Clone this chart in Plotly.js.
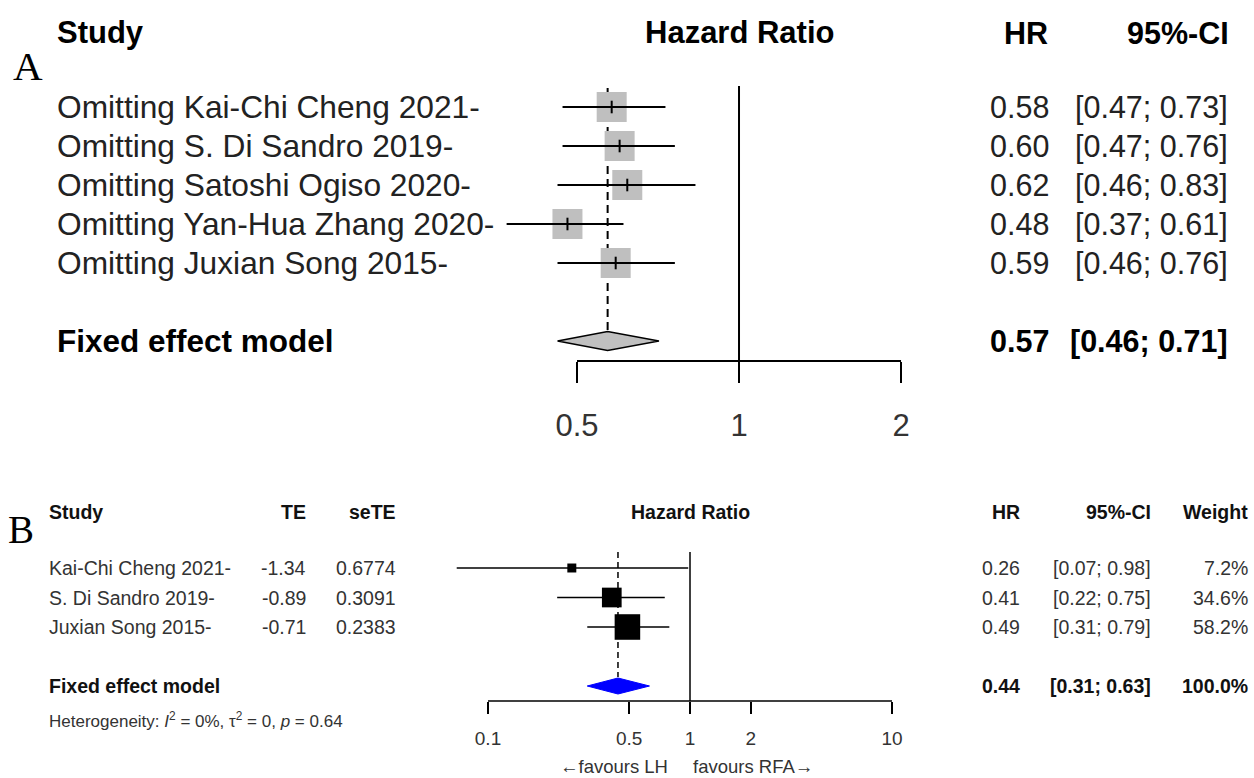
<!DOCTYPE html>
<html>
<head>
<meta charset="utf-8">
<script src="https://cdn.plot.ly/plotly-3.0.1.min.js"></script>
<style>html,body{margin:0;padding:0;background:#fff;}#chart{width:1254px;height:778px;}</style>
</head>
<body>
<div id="chart"></div>
<script>
// ---------- DATA ----------
// Panel A: leave-one-out sensitivity analysis
const studiesA = ["Omitting Kai-Chi Cheng 2021-", "Omitting S. Di Sandro 2019-", "Omitting Satoshi Ogiso 2020-", "Omitting Yan-Hua Zhang 2020-", "Omitting Juxian Song 2015-"];
const hrA = [0.58, 0.60, 0.62, 0.48, 0.59];
const loA = [0.47, 0.47, 0.46, 0.37, 0.46];
const hiA = [0.73, 0.76, 0.83, 0.61, 0.76];
const hrAtxt = ["0.58", "0.60", "0.62", "0.48", "0.59"];
const ciAtxt = ["[0.47; 0.73]", "[0.47; 0.76]", "[0.46; 0.83]", "[0.37; 0.61]", "[0.46; 0.76]"];
const fixedA = [0.57, 0.46, 0.71];          // HR, lower, upper
const fixedAtxt = ["0.57", "[0.46; 0.71]"];
const ticksA = [0.5, 1, 2];
const tickTextA = ["0.5", "1", "2"];

// Panel B: meta-analysis of three studies
const studiesB = ["Kai-Chi Cheng 2021-", "S. Di Sandro 2019-", "Juxian Song 2015-"];
const teB = ["-1.34", "-0.89", "-0.71"];
const seteB = ["0.6774", "0.3091", "0.2383"];
const hrB = [0.26, 0.41, 0.49];
const loB = [0.07, 0.22, 0.31];
const hiB = [0.98, 0.75, 0.79];
const weightB = [7.2, 34.6, 58.2];
const hrBtxt = ["0.26", "0.41", "0.49"];
const ciBtxt = ["[0.07; 0.98]", "[0.22; 0.75]", "[0.31; 0.79]"];
const wBtxt = ["7.2%", "34.6%", "58.2%"];
const fixedB = [0.44, 0.31, 0.63];
const fixedBtxt = ["0.44", "[0.31; 0.63]", "100.0%"];
const ticksB = [0.1, 0.5, 1, 2, 10];
const tickTextB = ["0.1", "0.5", "1", "2", "10"];

// ---------- LAYOUT GEOMETRY ----------
const W = 1254, H = 778;
const SANS = '"Liberation Sans", Arial, sans-serif';
const SERIF = '"Liberation Serif", "Times New Roman", serif';
const gA = {refPx: 577, refVal: 0.5, pxPerDec: 538.2, row1Px: 107, rowH: 39, axisRow: 7.513, fixedRow: 7, headRow: -0.9};
const gB = {refPx: 488, refVal: 0.1, pxPerDec: 202, row1Px: 568, rowH: 29.5, axisRow: 5.508, fixedRow: 5, headRow: -0.9};
function xRange(g) { const l = Math.log10(g.refVal); return [l - g.refPx / g.pxPerDec, l + (W - g.refPx) / g.pxPerDec]; }
function yRange(g) { return [1 + (H - g.row1Px) / g.rowH, 1 - g.row1Px / g.rowH]; }
function axisPaperY(g) { return 1 - (g.row1Px + (g.axisRow - 1) * g.rowH) / H; }
const rowsA = studiesA.map((_, i) => i + 1);
const rowsB = studiesB.map((_, i) => i + 1);

function segs(lo, hi, rows) {
  const x = [], y = [];
  lo.forEach((v, i) => { x.push(v, hi[i], null); y.push(rows[i], rows[i], null); });
  return {x, y};
}
function diamond(f, row, h) {
  return {x: [f[1], f[0], f[2], f[0], f[1]], y: [row, row - h, row, row + h, row]};
}

const traces = [];
// ----- Panel A -----
traces.push({x: [fixedA[0], fixedA[0]], y: [0.513, 6.795], xaxis: 'x', yaxis: 'y', mode: 'lines',
  line: {color: '#000', width: 2, dash: '8px,5px'}, hoverinfo: 'skip'});
traces.push({x: [1, 1], y: [0.4615, gA.axisRow], xaxis: 'x', yaxis: 'y', mode: 'lines',
  line: {color: '#000', width: 2}, hoverinfo: 'skip'});
traces.push({x: [ticksA[0], ticksA[ticksA.length - 1]], y: [gA.axisRow, gA.axisRow], xaxis: 'x', yaxis: 'y', mode: 'lines',
  line: {color: '#000', width: 2}, hoverinfo: 'skip'});
traces.push({x: hrA, y: rowsA, xaxis: 'x', yaxis: 'y', mode: 'markers',
  marker: {symbol: 'square', size: 30, color: '#bfbfbf', opacity: 1, line: {width: 0}}});
const sA = segs(loA, hiA, rowsA);
traces.push({x: sA.x, y: sA.y, xaxis: 'x', yaxis: 'y', mode: 'lines', line: {color: '#000', width: 2}, hoverinfo: 'skip'});
traces.push({x: hrA, y: rowsA, xaxis: 'x', yaxis: 'y', mode: 'markers',
  marker: {symbol: 'line-ns', size: 9, opacity: 1, line: {color: '#000', width: 2}}});
const dA = diamond(fixedA, gA.fixedRow, 9.5 / gA.rowH);
traces.push({x: dA.x, y: dA.y, xaxis: 'x', yaxis: 'y', mode: 'lines', fill: 'toself', fillcolor: '#c0c0c0',
  line: {color: '#000', width: 1.5}, hoverinfo: 'skip'});

// ----- Panel B -----
traces.push({x: [fixedB[0], fixedB[0]], y: [0.458, 4.695], xaxis: 'x2', yaxis: 'y2', mode: 'lines',
  line: {color: '#000', width: 1.5, dash: '6px,4px'}, hoverinfo: 'skip'});
traces.push({x: [1, 1], y: [0.458, gB.axisRow], xaxis: 'x2', yaxis: 'y2', mode: 'lines',
  line: {color: '#000', width: 1.5}, hoverinfo: 'skip'});
traces.push({x: [ticksB[0], ticksB[ticksB.length - 1]], y: [gB.axisRow, gB.axisRow], xaxis: 'x2', yaxis: 'y2', mode: 'lines',
  line: {color: '#000', width: 1.5}, hoverinfo: 'skip'});
const sB = segs(loB, hiB, rowsB);
traces.push({x: sB.x, y: sB.y, xaxis: 'x2', yaxis: 'y2', mode: 'lines', line: {color: '#000', width: 1.5}, hoverinfo: 'skip'});
traces.push({x: hrB, y: rowsB, xaxis: 'x2', yaxis: 'y2', mode: 'markers',
  marker: {symbol: 'square', size: weightB.map(w => 3.35 * Math.sqrt(w)), color: '#000', opacity: 1, line: {width: 0}}});
const dB = diamond(fixedB, gB.fixedRow, 8 / gB.rowH);
traces.push({x: dB.x, y: dB.y, xaxis: 'x2', yaxis: 'y2', mode: 'lines', fill: 'toself', fillcolor: '#0000ff',
  line: {color: '#0000ff', width: 1}, hoverinfo: 'skip'});

// ---------- TEXT ----------
const ann = [];
function t(text, xpx, row, yref, anchor, size, opts) {
  opts = opts || {};
  ann.push({text: text, x: xpx / W, xref: 'paper', y: row, yref: yref, xanchor: anchor, yanchor: 'middle',
    showarrow: false, font: {family: opts.family || SANS, size: size, color: opts.color || '#222'}});
}
// Panel A
t('A', 28, -0.05, 'y', 'center', 41, {family: SERIF, color: '#000'});
t('<b>Study</b>', 55, gA.headRow, 'y', 'left', 31, {color: '#000'});
t('<b>Hazard Ratio</b>', 739, gA.headRow, 'y', 'center', 31, {color: '#000'});
t('<b>HR</b>', 1050, gA.headRow, 'y', 'right', 30.5, {color: '#000'});
t('<b>95%-CI</b>', 1231, gA.headRow, 'y', 'right', 30.5, {color: '#000'});
studiesA.forEach((s, i) => {
  t(s, 55, rowsA[i], 'y', 'left', 31.7);
  t(hrAtxt[i], 1051, rowsA[i], 'y', 'right', 30.5);
  t(ciAtxt[i], 1230, rowsA[i], 'y', 'right', 30.5);
});
t('<b>Fixed effect model</b>', 55, gA.fixedRow, 'y', 'left', 31.5, {color: '#000'});
t('<b>' + fixedAtxt[0] + '</b>', 1051, gA.fixedRow, 'y', 'right', 30.5, {color: '#000'});
t('<b>' + fixedAtxt[1] + '</b>', 1230, gA.fixedRow, 'y', 'right', 30.5, {color: '#000'});

// Panel B
t('B', 21, -0.3, 'y2', 'center', 39, {family: SERIF, color: '#000'});
t('<b>Study</b>', 47, gB.headRow, 'y2', 'left', 19.5, {color: '#111'});
t('<b>TE</b>', 308, gB.headRow, 'y2', 'right', 19.5, {color: '#111'});
t('<b>seTE</b>', 398, gB.headRow, 'y2', 'right', 19.5, {color: '#111'});
t('<b>Hazard Ratio</b>', 690, gB.headRow, 'y2', 'center', 19.5, {color: '#111'});
t('<b>HR</b>', 1022, gB.headRow, 'y2', 'right', 19.5, {color: '#111'});
t('<b>95%-CI</b>', 1153, gB.headRow, 'y2', 'right', 19.5, {color: '#111'});
t('<b>Weight</b>', 1250, gB.headRow, 'y2', 'right', 19.5, {color: '#111'});
studiesB.forEach((s, i) => {
  t(s, 47, rowsB[i], 'y2', 'left', 19.5, {color: '#333'});
  t(teB[i], 308, rowsB[i], 'y2', 'right', 19.5, {color: '#333'});
  t(seteB[i], 398, rowsB[i], 'y2', 'right', 19.5, {color: '#333'});
  t(hrBtxt[i], 1022, rowsB[i], 'y2', 'right', 19.5, {color: '#333'});
  t(ciBtxt[i], 1153, rowsB[i], 'y2', 'right', 19.5, {color: '#333'});
  t(wBtxt[i], 1250, rowsB[i], 'y2', 'right', 19.5, {color: '#333'});
});
t('<b>Fixed effect model</b>', 47, gB.fixedRow, 'y2', 'left', 19.5, {color: '#111'});
t('<b>' + fixedBtxt[0] + '</b>', 1022, gB.fixedRow, 'y2', 'right', 19.5, {color: '#111'});
t('<b>' + fixedBtxt[1] + '</b>', 1153, gB.fixedRow, 'y2', 'right', 19.5, {color: '#111'});
t('<b>' + fixedBtxt[2] + '</b>', 1250, gB.fixedRow, 'y2', 'right', 19.5, {color: '#111'});
t('Heterogeneity: <i>I</i><sup>2</sup> = 0%, τ<sup>2</sup> = 0, <i>p</i> = 0.64', 47, 6.15, 'y2', 'left', 17, {color: '#333'});
t('←favours LH', 670, 7.72, 'y2', 'right', 18.5, {color: '#333'});
t('favours RFA→', 691, 7.72, 'y2', 'left', 18.5, {color: '#333'});

const layout = {
  width: W, height: H,
  margin: {l: 0, r: 0, t: 0, b: 0, pad: 0},
  paper_bgcolor: '#fff', plot_bgcolor: 'rgba(0,0,0,0)',
  showlegend: false,
  font: {family: SANS},
  xaxis: {type: 'log', range: xRange(gA), domain: [0, 1], anchor: 'free', position: axisPaperY(gA),
    showgrid: false, zeroline: false, showline: false, ticks: 'outside', ticklen: 21, tickwidth: 2, tickcolor: '#000',
    tickmode: 'array', tickvals: ticksA, ticktext: tickTextA, tickfont: {size: 31, color: '#333', family: SANS},
    ticklabelstandoff: 16, fixedrange: true},
  yaxis: {range: yRange(gA), domain: [0, 1], visible: false, fixedrange: true},
  xaxis2: {type: 'log', range: xRange(gB), domain: [0, 1], anchor: 'free', position: axisPaperY(gB),
    showgrid: false, zeroline: false, showline: false, ticks: 'outside', ticklen: 12, tickwidth: 1.5, tickcolor: '#000',
    tickmode: 'array', tickvals: ticksB, ticktext: tickTextB, tickfont: {size: 19, color: '#333', family: SANS},
    ticklabelstandoff: 8, fixedrange: true},
  yaxis2: {range: yRange(gB), domain: [0, 1], visible: false, anchor: 'x2', fixedrange: true},
  annotations: ann
};
Plotly.newPlot('chart', traces, layout, {displayModeBar: false, staticPlot: true});
</script>
</body>
</html>
